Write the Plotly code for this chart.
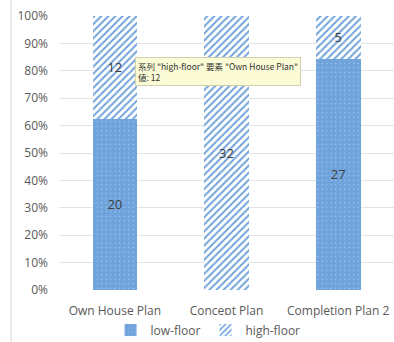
import plotly.graph_objects as go

categories = ["Own House Plan", "Concept Plan", "Completion Plan 2"]
low_floor = [20, 0, 27]
high_floor = [12, 32, 5]
y_ticks = [0, 10, 20, 30, 40, 50, 60, 70, 80, 90, 100]
y_tick_labels = [f"{v}%" for v in y_ticks]

BLUE = "#6fa3dc"
totals = [a + b for a, b in zip(low_floor, high_floor)]
low_pct = [100 * a / t for a, t in zip(low_floor, totals)]
high_pct = [100 * b / t for b, t in zip(high_floor, totals)]

fig = go.Figure()
fig.add_trace(go.Bar(
    name="low-floor", x=categories, y=low_pct,
    text=[str(v) if v else "" for v in low_floor], textposition="inside",
    insidetextanchor="middle",
    textfont=dict(color="#404040", size=13),
    marker=dict(color=BLUE, line=dict(width=0),
                pattern=dict(shape=".", fgcolor="white", bgcolor=BLUE, size=4.5, solidity=0.06)),
    width=0.4,
))
fig.add_trace(go.Bar(
    name="high-floor", x=categories, y=high_pct,
    text=[str(v) if v else "" for v in high_floor], textposition="inside",
    insidetextanchor="middle",
    textfont=dict(color="#404040", size=13),
    marker=dict(color="white", line=dict(width=0),
                pattern=dict(shape="/", fgcolor=BLUE, bgcolor="white", size=5, solidity=0.4, fillmode="replace")),
    width=0.4,
))

fig.update_layout(
    barmode="stack",
    width=394, height=342,
    margin=dict(l=59, r=0, t=16, b=52, autoexpand=False),
    paper_bgcolor="white", plot_bgcolor="white",
    font=dict(family="Open Sans", size=12, color="#595959"),
    uniformtext=dict(mode="show", minsize=8),
    showlegend=True,
    legend=dict(orientation="h", x=0.445, xanchor="center", y=-0.093, yanchor="top",
                traceorder="normal",
                font=dict(size=12, color="#595959"), itemwidth=30, tracegroupgap=0),
    xaxis=dict(showgrid=False, showline=False, ticks="", tickfont=dict(size=12), ticklabelstandoff=12),
    yaxis=dict(range=[0, 100], tickvals=y_ticks, ticktext=y_tick_labels,
               showgrid=True, gridcolor="#e3e3e3", gridwidth=1, zeroline=False,
               showline=False, ticks="", ticklabelstandoff=10, tickfont=dict(size=12)),
    shapes=[dict(type="line", xref="paper", yref="paper", x0=-0.143, x1=-0.143, y0=-0.2, y1=1.06,
                 line=dict(color="#d9d9d9", width=1))],
    annotations=[dict(
        xref="paper", yref="paper", x=0.227, y=0.85, xanchor="left", yanchor="top",
        text="系列 \"high-floor\" 要素 \"Own House Plan\"<br>値: 12",
        showarrow=False, align="left",
        font=dict(family="Noto Sans CJK JP", size=8.5, color="#333333"),
        bgcolor="#fbfbd6", bordercolor="#d0d0b0", borderwidth=1, borderpad=2,
    )],
)

fig.write_html("out.html")
